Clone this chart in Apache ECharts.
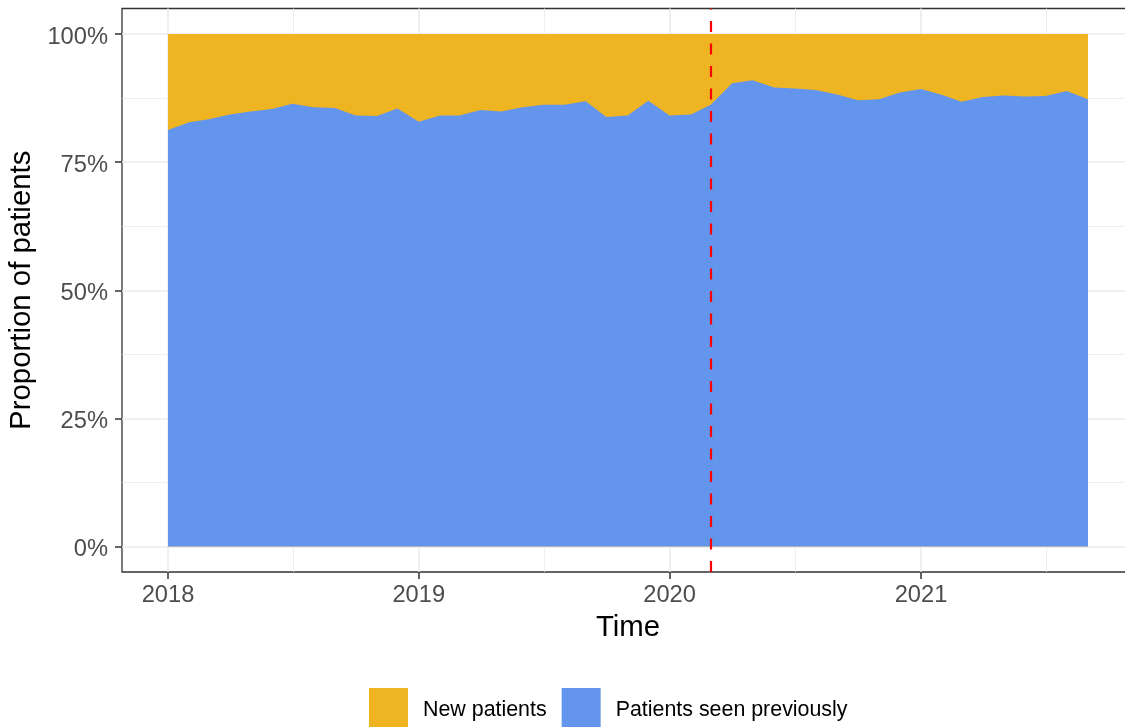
<!DOCTYPE html>
<html>
<head>
<meta charset="utf-8">
<script src="https://cdn.jsdelivr.net/npm/echarts@6/dist/echarts.min.js"></script>
<style>
  html, body { margin: 0; padding: 0; background: #fff; }
  #chart { width: 1125px; height: 728px; }
</style>
</head>
<body>
<div id="chart"></div>
<script>
// monthly points, Jan 2018 - Sep 2021
const months = [
  '2018-01', '2018-02', '2018-03', '2018-04', '2018-05', '2018-06', '2018-07', '2018-08', '2018-09', '2018-10', '2018-11', '2018-12',
  '2019-01', '2019-02', '2019-03', '2019-04', '2019-05', '2019-06', '2019-07', '2019-08', '2019-09', '2019-10', '2019-11', '2019-12',
  '2020-01', '2020-02', '2020-03', '2020-04', '2020-05', '2020-06', '2020-07', '2020-08', '2020-09', '2020-10', '2020-11', '2020-12',
  '2021-01', '2021-02', '2021-03', '2021-04', '2021-05', '2021-06', '2021-07', '2021-08', '2021-09',
];
const seenPrev = [
  81.3, 82.8, 83.4, 84.3, 84.9, 85.4, 86.4, 85.7, 85.6, 84.1, 84.0, 85.5,
  82.9, 84.1, 84.1, 85.2, 84.9, 85.7, 86.2, 86.2, 86.9, 83.8, 84.1, 87.0,
  84.1, 84.3, 86.2, 90.4, 91.0, 89.6, 89.4, 89.1, 88.2, 87.1, 87.3, 88.6,
  89.3, 88.1, 86.8, 87.7, 88.0, 87.8, 87.9, 88.9, 87.3,
];
const newPat = [
  18.7, 17.2, 16.6, 15.7, 15.1, 14.6, 13.6, 14.3, 14.4, 15.9, 16.0, 14.5,
  17.1, 15.9, 15.9, 14.8, 15.1, 14.3, 13.8, 13.8, 13.1, 16.2, 15.9, 13.0,
  15.9, 15.7, 13.8, 9.6, 9.0, 10.4, 10.6, 10.9, 11.8, 12.9, 12.7, 11.4,
  10.7, 11.9, 13.2, 12.3, 12.0, 12.2, 12.1, 11.1, 12.7,
];
const yearTicks = ['2018-01-01', '2019-01-01', '2020-01-01', '2021-01-01'];
const yearMinor = ['2018-07-02', '2019-07-02', '2020-07-02', '2021-07-02'];
const pctTicks = [0, 25, 50, 75, 100];
const pctMinor = [12.5, 37.5, 62.5, 87.5];
const lockdown = '2020-03-01';

const FONT = 'Liberation Sans, Arial, sans-serif';

// dates -> ms timestamps, plotted on a plain value axis
function ts(s) {
  const p = s.split('-').map(Number);
  return Date.UTC(p[0], p[1] - 1, p[2] || 1);
}

// ggplot style 5% expansion of the date range
const first = ts(months[0]);
const last = ts(months[months.length - 1]);
const pad = (last - first) * 0.05;
const xMin = first - pad;
const xMax = last + pad;

const chart = echarts.init(document.getElementById('chart'));

const gridLine = (w) => ({ show: true, lineStyle: { color: '#EBEBEB', width: w } });

// echarts' own stack picks the x dim on a value/value grid, so stack by hand:
// the new-patient band sits on top of the seen-previously share
const newTop = months.map((m, i) => [ts(m), seenPrev[i] + newPat[i]]);
const prevTop = months.map((m, i) => [ts(m), seenPrev[i]]);

chart.setOption({
  animation: false,
  grid: {
    left: 122, top: 8.5, width: 1012, height: 563.5,
    outerBoundsMode: 'none',
    show: true, borderColor: '#333333', borderWidth: 1.3, backgroundColor: 'transparent',
  },
  legend: {
    data: ['New patients', 'Patients seen previously'],
    left: 364, top: 683,
    icon: 'rect', itemWidth: 39, itemHeight: 39, itemGap: 15,
    formatter: name => '{n|' + name + '}',
    textStyle: {
      padding: [0, 0, 0, 10],
      rich: { n: { fontFamily: FONT, fontSize: 21.4, color: '#000', padding: [6, 0, 0, 0] } },
    },
  },
  xAxis: [
    {
      type: 'value', min: xMin, max: xMax,
      name: 'Time', nameLocation: 'middle', nameGap: 41,
      nameTextStyle: { fontFamily: FONT, fontSize: 29.4, color: '#000' },
      axisLine: { show: false, onZero: false },
      axisTick: { show: true, length: 7, lineStyle: { color: '#333333', width: 1.5 }, customValues: yearTicks.map(ts) },
      axisLabel: {
        customValues: yearTicks.map(ts), margin: 11,
        fontFamily: FONT, fontSize: 23.7, color: '#4D4D4D',
        formatter: v => String(new Date(v).getUTCFullYear()),
      },
      splitLine: gridLine(1.6),
    },
    {
      type: 'value', min: xMin, max: xMax,
      axisLine: { show: false, onZero: false },
      axisTick: { show: false, customValues: yearMinor.map(ts) },
      axisLabel: { show: false, customValues: yearMinor.map(ts) },
      splitLine: gridLine(0.8),
    },
  ],
  yAxis: [
    {
      type: 'value', min: -5, max: 105,
      name: 'Proportion of patients', nameLocation: 'middle', nameGap: 74,
      nameTextStyle: { fontFamily: FONT, fontSize: 29.4, color: '#000' },
      axisLine: { show: false, onZero: false },
      axisTick: { show: true, length: 7, lineStyle: { color: '#333333', width: 1.5 }, customValues: pctTicks },
      axisLabel: {
        customValues: pctTicks, margin: 14,
        formatter: v => '{t|' + v + '%}',
        rich: {
          t: { fontFamily: FONT, fontSize: 23.7, color: '#4D4D4D', padding: [6, 0, 0, 0] },
        },
      },
      splitLine: gridLine(1.6),
    },
    {
      type: 'value', min: -5, max: 105,
      axisLine: { show: false, onZero: false },
      axisTick: { show: false, customValues: pctMinor },
      axisLabel: { show: false, customValues: pctMinor },
      splitLine: gridLine(0.8),
    },
  ],
  series: [
    {
      name: 'New patients',
      type: 'line',
      data: newTop,
      showSymbol: false, lineStyle: { width: 0 },
      itemStyle: { color: '#EEB422' },
      areaStyle: { color: '#EEB422', opacity: 1, origin: 0 },
    },
    {
      name: 'Patients seen previously',
      type: 'line',
      data: prevTop,
      showSymbol: false, lineStyle: { width: 0 },
      itemStyle: { color: '#6495ED' },
      areaStyle: { color: '#6495ED', opacity: 1, origin: 0 },
      markLine: {
        silent: true, symbol: 'none', label: { show: false },
        lineStyle: { color: '#FF0000', type: [11, 11.5], width: 2.2 },
        data: [{ xAxis: ts(lockdown) }],
      },
    },
  ],
});
</script>
</body>
</html>
